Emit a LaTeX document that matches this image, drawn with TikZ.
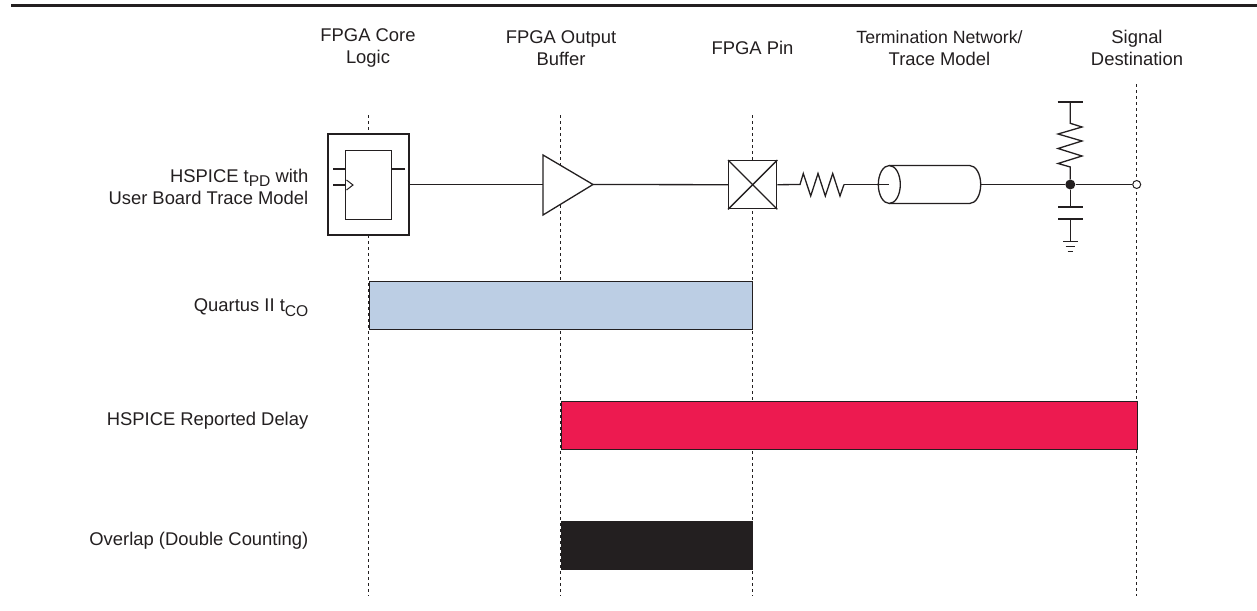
\documentclass[tikz,border=0pt]{standalone}
\usepackage{fontspec}
\setmainfont{Liberation Sans}
\definecolor{ink}{HTML}{231F20}
\definecolor{barblue}{HTML}{BCCEE4}
\definecolor{barred}{HTML}{ED1A50}
\tikzset{
 x=1pt,y=-1pt,
 lbl/.style={font=\fontsize{18.4}{22}\selectfont,text=ink,inner sep=0pt,align=center},
 rowlbl/.style={lbl,anchor=east,align=right},
 guide/.style={ink,line width=1pt,dash pattern=on 3pt off 3pt},
 wire/.style={ink,line width=1.3pt},
 bar/.style={draw=ink,line width=0.9pt,anchor=north west,inner sep=0pt,minimum height=48pt},
}
\newcommand{\lowsub}[1]{\raisebox{-4.3pt}{\fontsize{15.6}{22}\selectfont #1}}
\begin{document}
\begin{tikzpicture}
\useasboundingbox (0,0) rectangle (1257,610);
\fill[white] (0,0) rectangle (1257,610);
\coordinate (ruleL) at (11,5.5);
\coordinate (ruleR) at (1257,5.5);
\draw[ink,line width=2.2pt] (ruleL) -- (ruleR);
% guides
\coordinate (g1t) at (368.7,115); \coordinate (g1b) at (368.7,596);
\coordinate (g2t) at (560.7,115); \coordinate (g2b) at (560.7,596);
\coordinate (g3t) at (752.3,115); \coordinate (g3b) at (752.3,596);
\coordinate (g4t) at (1136.7,84); \coordinate (g4b) at (1136.7,596);
\draw[guide] (g1t) -- (g1b);
\draw[guide] (g2t) -- (g2b);
\draw[guide] (g3t) -- (g3b);
\draw[guide] (g4t) -- (g4b);
% headers
\node[lbl] (h1) at (368,48) {FPGA Core\\Logic};
\node[lbl] (h2) at (561,48) {FPGA Output\\Buffer};
\node[lbl] (h3) at (752.5,48) {FPGA Pin};
\node[lbl] (h4) at (939.5,48) {\fontsize{17.7}{22}\selectfont Termination Network/\\Trace Model};
\node[lbl] (h5) at (1137,48) {Signal\\Destination};
% row labels
\node[rowlbl] (r1) at (308.5,187) {HSPICE t\lowsub{PD} with\\User Board Trace Model};
\node[rowlbl] (r2) at (308.5,307.5) {Quartus II t\lowsub{CO}};
\node[rowlbl] (r3) at (308.5,421) {HSPICE Reported Delay};
\node[rowlbl] (r4) at (308.5,541) {Overlap (Double Counting)};
% bars
\node[bar,fill=barblue,minimum width=383.5pt] (b1) at (368.7,280.7) {};
\node[bar,fill=barred,minimum width=576pt] (b2) at (560.7,400.7) {};
\node[bar,fill=ink,minimum width=191.5pt] (b3) at (560.7,520.5) {};
% core box
\node[draw=ink,fill=white,line width=2pt,minimum width=81pt,minimum height=101pt,inner sep=0pt] (core) at (368.8,184.5) {};
\node[draw=ink,fill=white,line width=1.1pt,minimum width=46pt,minimum height=69pt,inner sep=0pt] (ff) at (368.8,185) {};
\coordinate (ffd) at (333,169); \coordinate (ffq) at (405,169); \coordinate (ffc) at (333,185);
\draw[wire] (ffd) -- (ffd -| ff.west);
\draw[wire] (ffq) -- (ffq -| ff.east);
\draw[wire] (ffc) -- (ffc -| ff.west);
\draw[wire,line width=1pt] (346.5,180) -- (353,185) -- (346.5,190);
% buffer
\node[draw=none,inner sep=0pt] (bufin) at (543,184.5) {};
\node[draw=none,inner sep=0pt] (bufout) at (593,184.5) {};
\draw[wire,fill=white,line join=miter] (543,155) -- (bufout.center) -- (543,215) -- cycle;
\draw[wire] (core.east) -- (bufin.center);
% pin
\node[draw=ink,fill=white,line width=1.3pt,minimum size=48pt,inner sep=0pt] (pin) at (752.7,184.7) {};
\draw[wire] (pin.north west) -- (pin.south east);
\draw[wire] (pin.north east) -- (pin.south west);
\draw[wire] (bufout.center) -- (pin.west);
% series resistor
\coordinate (rs) at (800,184.5); \coordinate (re) at (844,184.5);
\draw[wire,line join=miter] (pin.east) -- (rs) -- (803.3,173.5) -- (810.7,196) -- (818,173.5) -- (825.3,196) -- (832.7,173.5) -- (840,196) -- (re);
% trace cylinder
\coordinate (tl) at (889.3,184.5);
\coordinate (tr) at (980.7,184.5);
\draw[wire,fill=white] (889.3,165.5) -- (969.7,165.5) .. controls (975.8,165.5) and (980.7,174) .. (tr) .. controls (980.7,195) and (975.8,203.5) .. (969.7,203.5) -- (889.3,203.5);
\draw[wire] (889.3,184.5) ellipse[x radius=11,y radius=19];
\draw[wire] (re) -- (tl);
% junction
\node[circle,fill=ink,draw=none,minimum size=10pt,inner sep=0pt] (j) at (1070.3,184.5) {};
\node[circle,fill=white,draw=ink,line width=1pt,minimum size=8pt,inner sep=0pt] (dest) at (1136.7,184.5) {};
\draw[wire] (tr) -- (j);
\draw[wire] (j) -- (dest);
% pull-up
\coordinate (vt) at (1070.3,102);
\draw[wire] (1057.7,102) -- (1083,102);
\draw[wire,line join=miter] (vt) -- (1070.3,123.3) -- (1082,127) -- (1058,134) -- (1082,141) -- (1058,148.5) -- (1082,156) -- (1058,163.5) -- (1070.3,167) -- (j);
% cap and ground
\coordinate (c1) at (1070.3,207); \coordinate (c2) at (1070.3,219); \coordinate (gnd) at (1070.3,241.3);
\draw[wire] (j) -- (c1);
\draw[wire] (1058,207) -- (1083,207);
\draw[wire] (1058,219) -- (1083,219);
\draw[wire] (c2) -- (gnd);
\draw[wire] (1063.3,241.3) -- (1077.5,241.3);
\draw[wire] (1065.5,246.5) -- (1075,246.5);
\draw[wire] (1067.7,251.5) -- (1073,251.5);
\end{tikzpicture}
\end{document}
